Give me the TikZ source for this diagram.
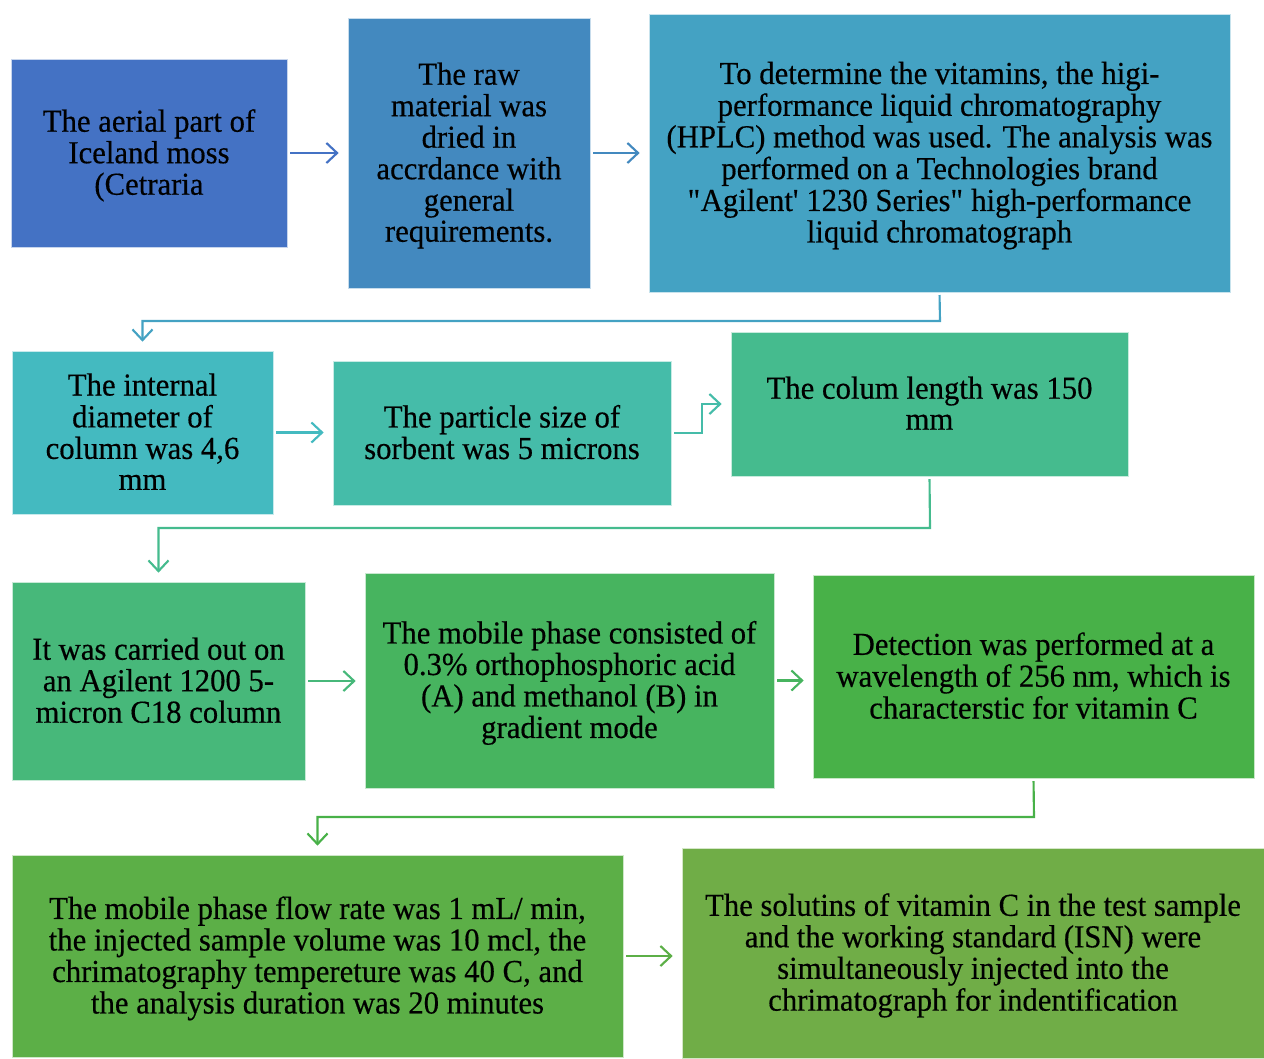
\documentclass[tikz,border=0pt]{standalone}
\usepackage{fontspec}
\setmainfont{Liberation Serif}[FakeStretch=0.96,FakeBold=0.4]
\usetikzlibrary{arrows.meta,calc}
\definecolor{c1}{HTML}{4472C4}
\definecolor{c2}{HTML}{4389BF}
\definecolor{c3}{HTML}{44A2C3}
\definecolor{c4}{HTML}{44BAC0}
\definecolor{c5}{HTML}{45BCA9}
\definecolor{c6}{HTML}{45BB8E}
\definecolor{c7}{HTML}{47B87A}
\definecolor{c8}{HTML}{47B45F}
\definecolor{c9}{HTML}{48B148}
\definecolor{c10}{HTML}{5CAF47}
\definecolor{c11}{HTML}{70AD47}
\newcommand{\ltxt}[1]{\begin{tabular}{@{}c@{}}\rule{0pt}{22.3pt}#1\end{tabular}}
\tikzset{
  box/.style={inner sep=0pt, outer sep=0pt, draw=white!70!#1, line width=0.5pt, fill=#1,
    font=\fontsize{24pt}{23.25pt}\selectfont, text=black},
  sz/.style 2 args={minimum width=#1*0.75pt, minimum height=#2*0.75pt},
  flow/.style={draw=#1, line width=1.6pt, -{Straight Barb[length=8pt,width=15pt,line width=1.6pt]},
    shorten <=2.25pt, shorten >=7pt}
}
\begin{document}
\begin{tikzpicture}[x=0.75pt,y=-0.75pt]
\useasboundingbox (0,0) rectangle (1264,1058);
\node[box=c1, sz={276}{188}] (b1) at (149,153) {\ltxt{The aerial part of\\Iceland moss\\(Cetraria}};
\node[box=c2, sz={242}{270}] (b2) at (469,153) {\ltxt{The raw\\material was\\dried in\\accrdance with\\general\\requirements.}};
\node[box=c3, sz={581}{278}] (b3) at (939.5,153) {\ltxt{To determine the vitamins, the higi-\\performance liquid chromatography\\(HPLC) method was used. The analysis was\\performed on a Technologies brand\\\textquotedbl Agilent\textquotesingle{} 1230 Series\textquotedbl{} high-performance\\liquid chromatograph}};
\node[box=c4, sz={261}{163}] (b4) at (142.5,432.5) {\ltxt{The internal\\diameter of\\column was 4,6\\mm}};
\node[box=c5, sz={338}{144}] (b5) at (502,433) {\ltxt{The particle size of\\sorbent was 5 microns}};
\node[box=c6, sz={397}{144}] (b6) at (929.5,404) {\ltxt{The colum length was 150\\mm}};
\node[box=c7, sz={293}{198}] (b7) at (158.5,681) {\ltxt{It was carried out on\\an Agilent 1200 5-\\micron C18 column}};
\node[box=c8, sz={409}{215}] (b8) at (569.5,680.5) {\ltxt{The mobile phase consisted of\\0.3\% orthophosphoric acid\\(A) and methanol (B) in\\gradient mode}};
\node[box=c9, sz={441}{203}] (b9) at (1033.5,676.5) {\ltxt{Detection was performed at a\\wavelength of 256 nm, which is\\characterstic for vitamin C}};
\node[box=c10, sz={611}{202}] (b10) at (317.5,956) {\ltxt{The mobile phase flow rate was 1 mL/ min,\\the injected sample volume was 10 mcl, the\\chrimatography tempereture was 40 C, and\\the analysis duration was 20 minutes}};
\node[box=c11, sz={582}{210}] (b11) at (973,953) {\ltxt{The solutins of vitamin C in the test sample\\and the working standard (ISN) were\\simultaneously injected into the\\chrimatograph for indentification}};
\coordinate (k3) at (940,321);
\coordinate (k5) at (702,433);
\coordinate (k6) at (930,528);
\coordinate (k9) at (1034,817);
\draw[flow=c1] (b1.east) -- (b1.east -| b2.west);
\draw[flow=c2] (b2.east) -- (b2.east -| b3.west);
\draw[flow=c3] (b3.south) -- (k3) -| (b4.north);
\draw[flow=c4] (b4.east) -- (b4.east -| b5.west);
\draw[flow=c5] (b5.east) -- (k5) |- (b6.west);
\draw[flow=c6] (b6.south) -- (k6) -| (b7.north);
\draw[flow=c7] (b7.east) -- (b7.east -| b8.west);
\draw[flow=c8] (b8.east) -- (b8.east -| b9.west);
\draw[flow=c9] (b9.south) -- (k9) -| (b10.north);
\draw[flow=c10] (b10.east) -- (b10.east -| b11.west);
\end{tikzpicture}
\end{document}
